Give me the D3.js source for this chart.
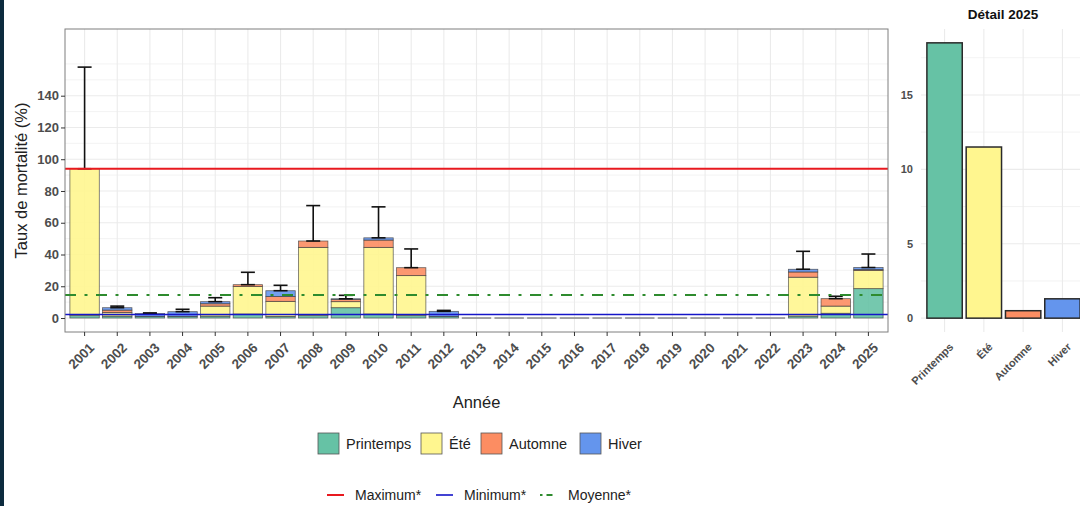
<!DOCTYPE html>
<html>
<head>
<meta charset="utf-8">
<script src="https://cdn.jsdelivr.net/npm/d3@7"></script>
<style>
  body { margin: 0; background: #fff; }
  svg { display: block; font-family: "Liberation Sans", Arial, sans-serif; }
</style>
</head>
<body>
<svg id="chart" width="1080" height="506"></svg>
<script>
// data
const years = ["2001","2002","2003","2004","2005","2006","2007","2008","2009","2010","2011","2012","2013",
  "2014","2015","2016","2017","2018","2019","2020","2021","2022","2023","2024","2025"]
const printemps = [1.5, 1.2, 1.0, 1.0, 1.2, 2.5, 1.0, 1.5, 6.5, 2.5, 1.5, 1.0, 0, 0, 0, 0, 0, 0, 0, 0, 0, 0, 1.2, 3.0, 18.5]
const ete       = [92.5, 2.3, 0, 0, 6.3, 17.3, 9.5, 43, 3.8, 42, 25.2, 0, 0, 0, 0, 0, 0, 0, 0, 0, 0, 0, 24.5, 4.5, 11.5]
const automne   = [0, 1.5, 0, 0, 1.5, 1.2, 3.0, 4.0, 1.5, 4.6, 5.0, 0, 0, 0, 0, 0, 0, 0, 0, 0, 0, 0, 3.3, 4.7, 0.5]
const hiver     = [0, 1.5, 1.8, 3.0, 1.3, 0, 3.7, 0, 0.3, 1.4, 0, 3.2, 0, 0, 0, 0, 0, 0, 0, 0, 0, 0, 1.7, 0, 1.3]
const errTop    = [158, 7.5, 3.2, 5.5, 12.8, 28.8, 20.6, 70.8, 14.3, 70, 43.5, 4.8, null, null, null, null, null, null,
  null, null, null, null, 42, 13.7, 40.3]
const seasons = ["Printemps", "Été", "Automne", "Hiver"]
const detail2025 = [18.5, 11.5, 0.5, 1.3]
const yTicks = [0, 20, 40, 60, 80, 100, 120, 140]
const detailTicks = [0, 5, 10, 15]
const maximum = 94
const minimum = 2.2
const moyenne = 14.5

const colors = { "Printemps": "#66c2a5", "Été": "#fff68f", "Automne": "#fc8d62", "Hiver": "#6495ed" }
const grid = "#ebebeb"
const axisText = "#4d4d4d"

const svg = d3.select("#chart")

// dark strip on the left edge of the slide
svg.append("rect").attr("x", 0).attr("y", 0).attr("width", 4).attr("height", 506).attr("fill", "#0d2b3e")

// ---------- main panel ----------
const m = { left: 65, right: 888, top: 29, bottom: 332 }
const x = d3.scaleBand().domain(years).range([m.left, m.right]).paddingInner(0.1).paddingOuter(0.15)
const y = d3.scaleLinear().domain([-8.8, 182]).range([m.bottom, m.top])

const main = svg.append("g")

// grid
main.selectAll(".minor").data(d3.range(10, 170, 20)).enter().append("line")
  .attr("x1", m.left).attr("x2", m.right).attr("y1", d => y(d)).attr("y2", d => y(d))
  .attr("stroke", grid).attr("stroke-width", 0.6)
main.selectAll(".major").data(yTicks.concat([160])).enter().append("line")
  .attr("x1", m.left).attr("x2", m.right).attr("y1", d => y(d)).attr("y2", d => y(d))
  .attr("stroke", grid).attr("stroke-width", d => d == 160 ? 0.6 : 1.1)
main.selectAll(".vgrid").data(years).enter().append("line")
  .attr("x1", d => x(d) + x.bandwidth() / 2).attr("x2", d => x(d) + x.bandwidth() / 2)
  .attr("y1", m.top).attr("y2", m.bottom)
  .attr("stroke", grid).attr("stroke-width", 1.1)

// stacked bars
const rows = years.map((yr, i) => ({ year: yr, "Printemps": printemps[i], "Été": ete[i], "Automne": automne[i], "Hiver": hiver[i] }))
const stack = d3.stack().keys(seasons)(rows)

main.append("g").selectAll("g").data(stack).enter().append("g")
  .attr("fill", d => colors[d.key])
  .selectAll("rect").data(d => d.filter(s => s[1] - s[0] > 0)).enter().append("rect")
  .attr("x", d => x(d.data.year))
  .attr("width", x.bandwidth())
  .attr("y", d => y(d[1]))
  .attr("height", d => y(d[0]) - y(d[1]))
  .attr("fill-opacity", 0.9)
  .attr("stroke", "#3a3a3a")
  .attr("stroke-opacity", 0.75)
  .attr("stroke-width", 0.8)

// zero-height bars drawn as flat outlines
main.selectAll(".zero").data(rows.filter(r => seasons.every(s => r[s] == 0))).enter().append("line")
  .attr("x1", d => x(d.year)).attr("x2", d => x(d.year) + x.bandwidth())
  .attr("y1", y(0)).attr("y2", y(0))
  .attr("stroke", "#777").attr("stroke-width", 1.3)

// error bars (upper only)
const errs = rows.map((r, i) => ({ year: r.year, top: errTop[i], total: seasons.reduce((a, s) => a + r[s], 0) }))
  .filter(d => d.top != null)
const eb = main.append("g").attr("stroke", "#111").attr("stroke-width", 1.6)
eb.selectAll(".ev").data(errs).enter().append("line")
  .attr("x1", d => x(d.year) + x.bandwidth() / 2).attr("x2", d => x(d.year) + x.bandwidth() / 2)
  .attr("y1", d => y(d.total)).attr("y2", d => y(d.top))
eb.selectAll(".ec").data(errs).enter().append("line")
  .attr("x1", d => x(d.year) + x.bandwidth() / 2 - 7).attr("x2", d => x(d.year) + x.bandwidth() / 2 + 7)
  .attr("y1", d => y(d.top)).attr("y2", d => y(d.top))
eb.selectAll(".eb").data(errs).enter().append("line")
  .attr("x1", d => x(d.year) + x.bandwidth() / 2 - 7).attr("x2", d => x(d.year) + x.bandwidth() / 2 + 7)
  .attr("y1", d => y(d.total)).attr("y2", d => y(d.total))

// reference lines
const refs = [
  { v: maximum, color: "#e8191f", w: 2, dash: null },
  { v: minimum, color: "#1515c8", w: 1.6, dash: null },
  { v: moyenne, color: "#2e8b2e", w: 2.2, dash: "11,8.5,3,8.5" }
]
main.selectAll(".ref").data(refs).enter().append("line")
  .attr("x1", m.left).attr("x2", m.right).attr("y1", d => y(d.v)).attr("y2", d => y(d.v))
  .attr("stroke", d => d.color).attr("stroke-width", d => d.w)
  .attr("stroke-dasharray", d => d.dash)

// panel border
main.append("rect").attr("x", m.left).attr("y", m.top)
  .attr("width", m.right - m.left).attr("height", m.bottom - m.top)
  .attr("fill", "none").attr("stroke", "#7f7f7f").attr("stroke-width", 1)

// axes
const yAxis = main.append("g").attr("transform", `translate(${m.left},0)`)
  .call(d3.axisLeft(y).tickValues(yTicks).tickSize(4).tickPadding(2))
yAxis.select(".domain").remove()
yAxis.selectAll("line").attr("stroke", "#333")
yAxis.selectAll("text").attr("fill", axisText).attr("font-size", 13).attr("font-weight", "bold")
  .attr("font-family", "Liberation Sans, Arial, sans-serif")

const xAxis = main.append("g").attr("transform", `translate(0,${m.bottom})`)
  .call(d3.axisBottom(x).tickSize(4).tickPadding(2))
xAxis.select(".domain").remove()
xAxis.selectAll("line").attr("stroke", "#333")
xAxis.selectAll("text").attr("fill", axisText).attr("font-size", 13.5).attr("font-weight", "bold")
  .attr("font-family", "Liberation Sans, Arial, sans-serif")
  .attr("text-anchor", "end").attr("dy", "0.35em")
  .attr("transform", "translate(3,9) rotate(-45)")

svg.append("text").attr("transform", `translate(27,${(m.top + m.bottom) / 2}) rotate(-90)`)
  .attr("text-anchor", "middle").attr("font-size", 16.5).attr("fill", "#222")
  .text("Taux de mortalité (%)")
svg.append("text").attr("x", (m.left + m.right) / 2).attr("y", 408)
  .attr("text-anchor", "middle").attr("font-size", 16.5).attr("fill", "#222")
  .text("Année")

// ---------- detail 2025 ----------
const dm = { left: 921, right: 1086, top: 29, bottom: 332 }
const dx = d3.scaleBand().domain(seasons).range([dm.left, dm.right]).paddingInner(0.1).paddingOuter(0.15)
const dy = d3.scaleLinear().domain([-0.93, 19.43]).range([dm.bottom, dm.top])
const det = svg.append("g")

det.selectAll(".dminor").data([2.5, 7.5, 12.5, 17.5]).enter().append("line")
  .attr("x1", dm.left).attr("x2", dm.right).attr("y1", d => dy(d)).attr("y2", d => dy(d))
  .attr("stroke", grid).attr("stroke-width", 0.6)
det.selectAll(".dmajor").data(detailTicks).enter().append("line")
  .attr("x1", dm.left).attr("x2", dm.right).attr("y1", d => dy(d)).attr("y2", d => dy(d))
  .attr("stroke", grid).attr("stroke-width", 1.1)
det.selectAll(".dv").data(seasons).enter().append("line")
  .attr("x1", d => dx(d) + dx.bandwidth() / 2).attr("x2", d => dx(d) + dx.bandwidth() / 2)
  .attr("y1", dm.top).attr("y2", dm.bottom)
  .attr("stroke", grid).attr("stroke-width", 1.1)

det.selectAll(".dbar").data(seasons).enter().append("rect")
  .attr("x", d => dx(d)).attr("width", dx.bandwidth())
  .attr("y", (d, i) => dy(detail2025[i]))
  .attr("height", (d, i) => dy(0) - dy(detail2025[i]))
  .attr("fill", d => colors[d])
  .attr("stroke", "#2a2a2a").attr("stroke-width", 1.5)

const dyAxis = det.append("g").attr("transform", `translate(${dm.left},0)`)
  .call(d3.axisLeft(dy).tickValues(detailTicks).tickSize(0).tickPadding(8))
dyAxis.select(".domain").remove()
dyAxis.selectAll("text").attr("fill", axisText).attr("font-size", 11).attr("font-weight", "bold")
  .attr("font-family", "Liberation Sans, Arial, sans-serif")

const dxAxis = det.append("g").attr("transform", `translate(0,${dm.bottom})`)
  .call(d3.axisBottom(dx).tickSize(0).tickPadding(4))
dxAxis.select(".domain").remove()
dxAxis.selectAll("text").attr("fill", axisText).attr("font-size", 11).attr("font-weight", "bold")
  .attr("font-family", "Liberation Sans, Arial, sans-serif")
  .attr("text-anchor", "end").attr("dy", "0.35em")
  .attr("transform", "translate(4,10) rotate(-45)")

svg.append("text").attr("x", 1003).attr("y", 19).attr("text-anchor", "middle")
  .attr("font-size", 13.5).attr("font-weight", "bold").attr("fill", "#111")
  .text("Détail 2025")

// ---------- legends ----------
const leg1 = [{ k: "Printemps", x: 318 }, { k: "Été", x: 421 }, { k: "Automne", x: 481 }, { k: "Hiver", x: 580 }]
const l1 = svg.append("g").selectAll("g").data(leg1).enter().append("g")
  .attr("transform", d => `translate(${d.x},433)`)
l1.append("rect").attr("width", 21).attr("height", 21)
  .attr("fill", d => colors[d.k]).attr("stroke", "#555").attr("stroke-width", 0.8)
l1.append("text").attr("x", 28).attr("y", 15.5).attr("font-size", 14.5).attr("fill", "#222").text(d => d.k)

const leg2 = [{ k: "Maximum*", x: 327, r: refs[0] }, { k: "Minimum*", x: 436, r: refs[1] }, { k: "Moyenne*", x: 540, r: refs[2] }]
const l2 = svg.append("g").selectAll("g").data(leg2).enter().append("g")
  .attr("transform", d => `translate(${d.x},495)`)
l2.append("line").attr("x1", 0).attr("x2", 17).attr("y1", 0).attr("y2", 0)
  .attr("stroke", d => d.r.color).attr("stroke-width", d => d.r.w)
  .attr("stroke-dasharray", d => d.r.dash ? "2.5,4,6,20" : null)
l2.append("text").attr("x", 28).attr("y", 5).attr("font-size", 14).attr("fill", "#222").text(d => d.k)
</script>
</body>
</html>
